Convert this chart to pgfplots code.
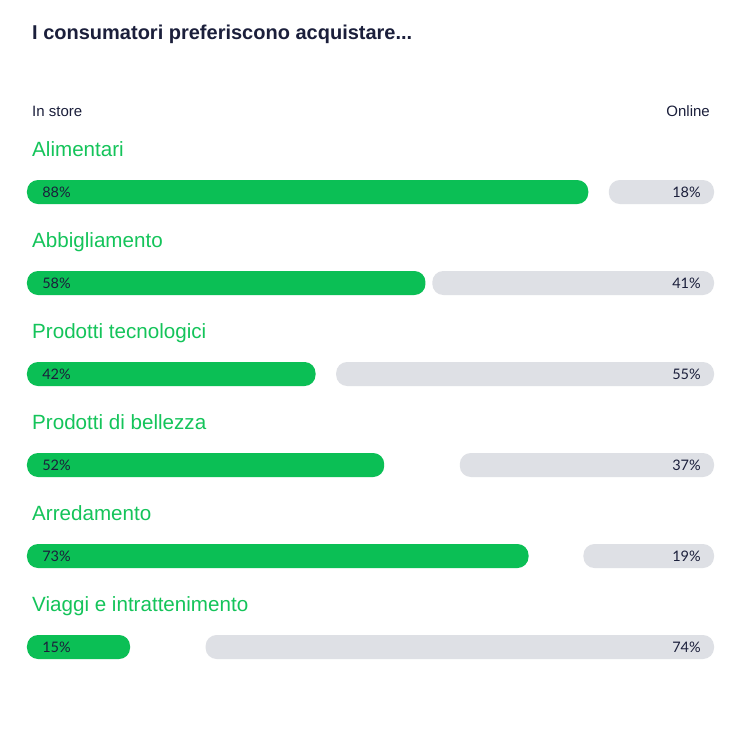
\documentclass[border=0pt]{standalone}
\usepackage{pgfplots}
\usepackage{pgfplotstable}
\pgfplotsset{compat=1.18}
\usepackage{fontspec}
\setmainfont{Liberation Sans}
\newfontfamily\pctfont{Lato}
\definecolor{storegreen}{HTML}{0BBF55}
\definecolor{labgreen}{HTML}{14C45A}
\definecolor{onlinegray}{HTML}{DEE0E5}
\definecolor{txtdark}{HTML}{1B1F3B}
% row, in store, online (labels); bar lengths as drawn
\pgfplotstableread{
row store online storelen gap onlinelen
0   88    18     81.7     3.0 15.3
1   58    41     58       1   41
2   42    55     42       3   55
3   52    37     52       11  37
4   73    19     73       8   19
5   15    74     15       11  74
}\datatable
\tikzset{
  cat/.style={anchor=base west, inner sep=0, text=labgreen, font=\fontsize{20.6}{23}\selectfont},
  pl/.style={anchor=west, inner sep=0, text=txtdark, font=\pctfont\fontsize{14.5}{16}\selectfont},
  pr/.style={anchor=east, inner sep=0, text=txtdark, font=\pctfont\fontsize{14.5}{16}\selectfont},
}
\begin{document}
\begin{tikzpicture}[x=1pt,y=1pt]
\path[use as bounding box, fill=white] (0,0) rectangle (737,-733);
\node[anchor=base west, font=\bfseries\fontsize{20}{22}\selectfont, text=txtdark, inner sep=0] at (32,-40) {I consumatori preferiscono acquistare...};
\node[anchor=base west, font=\fontsize{15}{17}\selectfont, text=txtdark, inner sep=0] at (32,-117) {In store};
\node[anchor=base east, font=\fontsize{15}{17}\selectfont, text=txtdark, inner sep=0] at (710,-117) {Online};
\begin{axis}[
  at={(27pt,-55.5pt)}, anchor=north west,
  scale only axis, width=687pt, height=637pt,
  xmin=0, xmax=100, ymin=-1.5, ymax=5.5, y dir=reverse,
  axis lines=none, clip=false,
  xbar stacked, bar width=24pt,
]
\addplot[fill=storegreen, draw=none, rounded corners=11pt] table[x=storelen, y=row] {\datatable};
\addplot[fill=none, draw=none] table[x=gap, y=row] {\datatable};
\addplot[fill=onlinegray, draw=none, rounded corners=11pt] table[x=onlinelen, y=row] {\datatable};
\node[cat] at (axis cs:0.73,-0.39) {Alimentari};
\node[cat] at (axis cs:0.73,0.61) {Abbigliamento};
\node[cat] at (axis cs:0.73,1.61) {Prodotti tecnologici};
\node[cat] at (axis cs:0.73,2.61) {Prodotti di bellezza};
\node[cat] at (axis cs:0.73,3.61) {Arredamento};
\node[cat] at (axis cs:0.73,4.61) {Viaggi e intrattenimento};
\coordinate (L0) at (axis cs:2.2,0);
\coordinate (L1) at (axis cs:2.2,1);
\coordinate (L2) at (axis cs:2.2,2);
\coordinate (L3) at (axis cs:2.2,3);
\coordinate (L4) at (axis cs:2.2,4);
\coordinate (L5) at (axis cs:2.2,5);
\coordinate (R0) at (axis cs:98.1,0);
\coordinate (R1) at (axis cs:98.1,1);
\coordinate (R2) at (axis cs:98.1,2);
\coordinate (R3) at (axis cs:98.1,3);
\coordinate (R4) at (axis cs:98.1,4);
\coordinate (R5) at (axis cs:98.1,5);
\end{axis}
\node[pl] at (L0) {88\%};
\node[pl] at (L1) {58\%};
\node[pl] at (L2) {42\%};
\node[pl] at (L3) {52\%};
\node[pl] at (L4) {73\%};
\node[pl] at (L5) {15\%};
\node[pr] at (R0) {18\%};
\node[pr] at (R1) {41\%};
\node[pr] at (R2) {55\%};
\node[pr] at (R3) {37\%};
\node[pr] at (R4) {19\%};
\node[pr] at (R5) {74\%};
\end{tikzpicture}
\end{document}
